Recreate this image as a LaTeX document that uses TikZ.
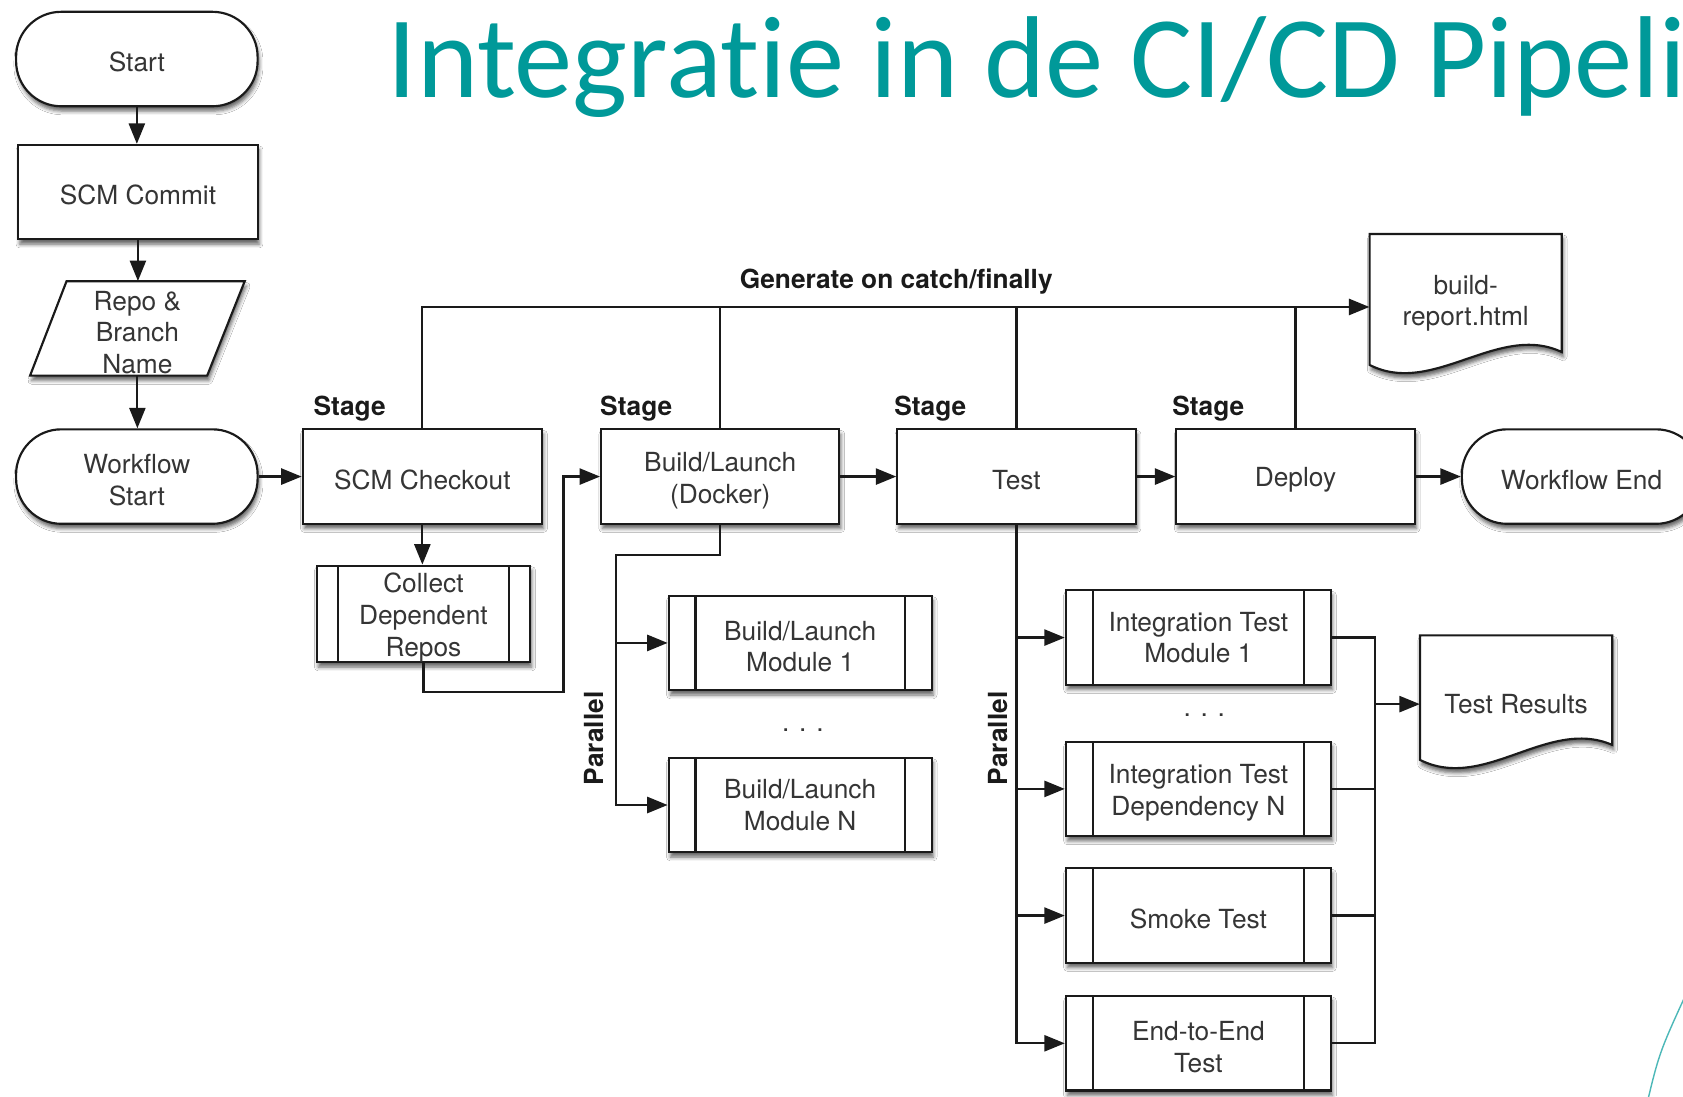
\documentclass[tikz,border=0pt]{standalone}
\usepackage{fontspec}
\setmainfont{TeX Gyre Heros}
\newfontfamily\titlefont[Ligatures=NoCommon]{Carlito}
\usetikzlibrary{arrows.meta,calc,shadows.blur}
\definecolor{teal1}{HTML}{009999}
\definecolor{ink}{HTML}{1A1A1A}
\definecolor{txt}{HTML}{353535}
% taller first line, to sit multi-line labels a little lower in their boxes
\newcommand\tstrut{\rule{0pt}{25pt}}
\begin{document}
\begin{tikzpicture}[x=1pt,y=-1pt,
  softshadow/.style={blur shadow={shadow xshift=1.5pt, shadow yshift=-4.5pt,
      shadow blur radius=3.5pt, shadow opacity=60}},
  boxfont/.style={font=\fontsize{24.5}{29.5}\selectfont},
  base/.style={draw=ink, line width=2pt, fill=white, text=txt, align=center,
    inner sep=0pt, boxfont, softshadow,
    execute at begin node={\rule{0pt}{24pt}}},
  box/.style={base, minimum width=223pt, minimum height=88pt},
  term/.style={box, rounded corners=42pt, minimum width=225pt},
  sub/.style={base, minimum width=245pt, minimum height=88pt, path picture={
      \draw[ink, line width=2pt]
        ([xshift=#1]path picture bounding box.north west) --
        ([xshift=#1]path picture bounding box.south west)
        ([xshift=-#1]path picture bounding box.north east) --
        ([xshift=-#1]path picture bounding box.south east);}},
  sub/.default=25pt,
  plain/.style={text=txt, align=center, inner sep=0pt, boxfont,
    execute at begin node={\rule{0pt}{24pt}}},
  dots/.style={text=txt, inner sep=0pt, boxfont},
  lbl/.style={text=ink, inner sep=0pt, font=\bfseries\fontsize{24.5}{29.5}\selectfont},
  outline/.style={draw=ink, line width=2pt, fill=white, softshadow},
  line/.style={draw=ink, line width=2pt},
  arr/.style={line, -{Triangle[length=19pt,width=15pt]}}
]
\useasboundingbox (0,0) rectangle (1568,1022);
\clip (0,0) rectangle (1568,1022);
\fill[white] (0,0) rectangle (1568,1022);

% heading
\node[anchor=base west, inner sep=0pt, text=teal1,
      font=\titlefont\fontsize{108.5}{120}\selectfont] (title) at (361,91)
      {Integratie in de CI/CD Pipeline};

% trigger column
\node[term] (start) at (127.5,55) {Start};
\node[box] (commit) at (128.5,179) {SCM Commit};
\path[outline] (28,350) -- (193,350) -- (228,262) -- (62,262) -- cycle;
\node[plain, minimum width=165pt, minimum height=88pt] (repo) at (128,306)
      {\tstrut Repo \&\\Branch\\Name};
\node[term] (wfstart) at (127.5,444) {\tstrut Workflow\\Start};

% pipeline stages
\node[box] (checkout) at (393.5,444) {SCM Checkout};
\node[box, minimum width=222pt] (build) at (671,444) {\tstrut Build/Launch\\(Docker)};
\node[box, minimum width=222pt] (test) at (947,444) {Test};
\node[box, minimum width=222pt] (deploy) at (1207,444) {Deploy};
\node[term, minimum width=223pt] (wfend) at (1473.5,444) {Workflow End};

\node[lbl, anchor=west] (st1) at (292,381) {Stage};
\node[lbl, anchor=west] (st2) at (559,381) {Stage};
\node[lbl, anchor=west] (st3) at (833,381) {Stage};
\node[lbl, anchor=west] (st4) at (1092,381) {Stage};

% sub-processes
\node[sub=20pt, minimum width=199pt, minimum height=90pt] (collect) at (394.5,572)
      {\tstrut Collect\\Dependent\\Repos};
\node[sub] (m1) at (745.5,599) {\tstrut Build/Launch\\Module 1};
\node[dots] (dots1) at (748,680) {. . .};
\node[sub] (mn) at (745.5,750) {Build/Launch\\Module N};
\node[lbl, rotate=90] (par1) at (553,688) {Parallel};

\node[sub, minimum width=247pt] (it1) at (1116.5,594) {Integration Test\\Module 1};
\node[dots] (dots2) at (1122,666) {. . .};
\node[sub, minimum width=247pt] (itn) at (1116.5,735) {\tstrut Integration Test\\Dependency N};
\node[sub, minimum width=247pt] (smoke) at (1116.5,853) {Smoke Test};
\node[sub, minimum width=247pt] (e2e) at (1116.5,972) {\tstrut End-to-End\\Test};
\node[lbl, rotate=90] (par2) at (930,688) {Parallel};

% documents
\path[outline] (1455,218) -- (1276,218) -- (1276,340)
      .. controls (1335,370) and (1396,300) .. (1455,328) -- cycle;
\node[plain, minimum width=179pt, minimum height=122pt] (report) at (1365.5,279)
      {\tstrut build-\\report.html};
\path[outline] (1502,592) -- (1323,592) -- (1323,708)
      .. controls (1383,738) and (1442,668) .. (1502,694) -- cycle;
\node[plain, minimum width=179pt, minimum height=116pt] (results) at (1412.5,653)
      {Test Results};

% routing points
\coordinate (bus) at (0,286);
\coordinate (j1) at (525,645);
\coordinate (bj) at (574,517);
\coordinate (rb) at (1281,0);

% main flow
\draw[arr] (start.south) -- (start.south |- commit.north);
\draw[arr] (commit.south) -- (commit.south |- repo.north);
\draw[arr] (repo.south) -- (repo.south |- wfstart.north);
\draw[arr] (wfstart) -- (checkout);
\draw[arr] (checkout.south) -- (checkout.south |- collect.north);
\draw[arr] (collect.south) |- (j1) |- (build.west);
\draw[arr] (build) -- (test);
\draw[arr] (test) -- (deploy);
\draw[arr] (deploy) -- (wfend);

% report bus
\draw[arr] (checkout.north) |- (report.west |- bus);
\draw[line] (build.north) -- (build.north |- bus);
\draw[line] (test.north) -- (test.north |- bus);
\draw[line] (deploy.north) -- (deploy.north |- bus);
\node[lbl] (gen) at (835,262) {Generate on catch/finally};

% parallel builds
\draw[arr] (build.south) |- (bj) |- (m1.west);
\draw[arr] (bj) |- (mn.west);

% parallel tests
\draw[arr] (test.south) |- (it1.west);
\draw[arr] (test.south) |- (itn.west);
\draw[arr] (test.south) |- (smoke.west);
\draw[arr] (test.south) |- (e2e.west);

% results collector
\draw[line] (it1.east) -| (rb |- e2e.east) -- (e2e.east);
\draw[line] (itn.east) -- (itn.east -| rb);
\draw[line] (smoke.east) -- (smoke.east -| rb);
\draw[arr] ([yshift=-3pt]results.west -| rb) -- ([yshift=-3pt]results.west);

% decorative arc
\draw[teal1!70, line width=1.3pt] (1534,1030) .. controls (1546,980) .. (1576,915);
\end{tikzpicture}
\end{document}
